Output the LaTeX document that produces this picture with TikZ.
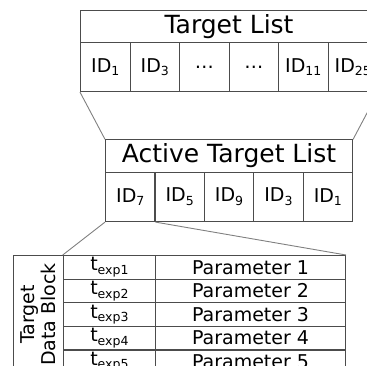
\documentclass[tikz,border=0pt]{standalone}
\usepackage{fontspec}
\setmainfont{DejaVu Sans}
\newcommand\mysub[1]{\raisebox{-0.35ex}{\fontsize{12.5}{13}\selectfont #1}}
\begin{document}
\begin{tikzpicture}[x=1pt,y=-1pt,
  box/.style={draw=black!70,line width=1.1pt,inner sep=0pt,anchor=north west},
  funnel/.style={draw=black!50,line width=0.9pt},
  big/.style={font=\fontsize{25}{28}\selectfont},
  mid/.style={font=\fontsize{19}{22}\selectfont}]
\useasboundingbox (0,0) rectangle (367,365);
\clip (0,0) rectangle (367,365);
% Target List
\node[box,big,minimum width=297pt,minimum height=32pt] (tl) at (80,10) {Target List};
\foreach \i/\lbl [count=\k from 0] in {1/ID\mysub{1},2/ID\mysub{3},3/\dots,4/\dots,5/ID\mysub{11},6/ID\mysub{25}}{
  \node[box,mid,minimum width=49.5pt,minimum height=49pt] (c\i) at (80+\k*49.5,42) {\lbl};
}
% Active Target List
\node[box,big,minimum width=247pt,minimum height=32.4pt] (atl) at (105,139.3) {Active Target List};
\foreach \i/\lbl [count=\k from 0] in {1/7,2/5,3/9,4/3,5/1}{
  \node[box,mid,minimum width=49.4pt,minimum height=49.3pt] (a\i) at (105+\k*49.4,171.7) {ID\mysub{\lbl}};
}
% Data block
\node[box,minimum width=49.4pt,minimum height=118pt] (lab) at (13.3,255) {};
\node[mid,rotate=90,align=center] (labt) at (lab.center) {Target\\[-1pt]Data Block};
\foreach \i [count=\k from 0] in {1,...,5}{
  \node[box,mid,minimum width=92.3pt,minimum height=23.6pt] (t\i) at (62.7,255+\k*23.6) {t\mysub{exp\i}};
  \node[box,mid,minimum width=190pt,minimum height=23.6pt] (p\i) at (155,255+\k*23.6) {Parameter \i};
}
% Funnel lines
\draw[funnel] (c1.south west) -- (atl.north west);
\draw[funnel] (c6.south east) -- (atl.north east);
\draw[funnel] (a1.south west) -- (t1.north west);
\draw[funnel] (a1.south east) -- (p1.north east);
\end{tikzpicture}
\end{document}
